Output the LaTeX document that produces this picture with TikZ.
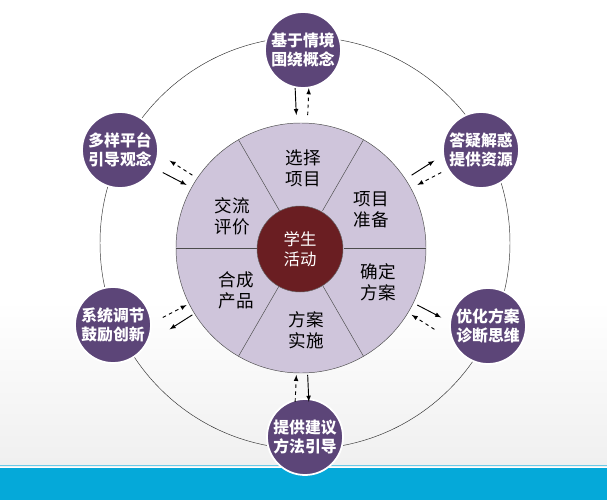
\documentclass[tikz,border=0pt]{standalone}
\usepackage{fontspec}
\setmainfont{Noto Sans CJK SC}
\usetikzlibrary{calc}
\definecolor{disk}{HTML}{CFC5DB}
\definecolor{hub}{HTML}{6A1E22}
\definecolor{ring}{HTML}{5C4578}
\definecolor{band}{HTML}{05A9D9}
\begin{document}
\begin{tikzpicture}[x=0.03cm,y=-0.03cm,
    outer/.style={circle, draw=white, line width=1.5pt, fill=ring, text=white,
        minimum size=76*0.03cm, inner sep=0pt, align=center, font=\fontsize{13.5}{16}\selectfont\bfseries},
    sector/.style={align=center, font=\fontsize{15}{18}\selectfont},
    solidarr/.style={-latex, thick},
    dasharr/.style={-latex, thick, dashed}]
    \useasboundingbox (0,0) rectangle (607,500);
    \shade[top color=white, bottom color=gray!12] (0,300) rectangle (607,466);
    \fill[band] (0,468) rectangle (607,500);
    \draw[band!60, line width=0.8pt] (0,465.5) -- (607,465.5);
    % big ring
    \coordinate (c) at (302,245);
    \draw[black!80, thin] (305,243) ellipse (205 and 206);
    % wheel
    \draw[black!70, fill=disk] (301,248) circle (125);
    \foreach \a in {0,60,...,300}
        \draw[black!70] ($(301,248)+(\a:43)$) -- ($(301,248)+(\a:125)$);
    \node (hub) [circle, fill=hub, draw=black!60, minimum size=86*0.03cm, text=white,
        align=center, font=\fontsize{14}{17}\selectfont] at (300,249) {学生\\活动};
    \node (s1) [sector] at (303,168) {选择\\项目};
    \node (s2) [sector] at (371,210) {项目\\准备};
    \node (s3) [sector] at (378,282) {确定\\方案};
    \node (s4) [sector] at (306,330) {方案\\实施};
    \node (s5) [sector] at (236,290) {合成\\产品};
    \node (s6) [sector] at (232,216) {交流\\评价};
    % outer nodes
    \node (o1) [outer] at (303,50) {基于情境\\围绕概念};
    \node (o2) [outer] at (481,150) {答疑解惑\\提供资源};
    \node (o3) [outer] at (488,326) {优化方案\\诊断思维};
    \node (o4) [outer] at (305,437) {提供建议\\方法引导};
    \node (o5) [outer] at (113,325) {系统调节\\鼓励创新};
    \node (o6) [outer] at (120,150) {多样平台\\引导观念};
    % arrow pairs (y axis flipped, so angles negated)
    \foreach \a/\sdir in {90/1,30/0,-30/0,-90/0,-150/0,150/1}{
        \coordinate (pa) at ($(c)+(-\a-2.5:130)$);
        \coordinate (pb) at ($(c)+(-\a-2.5:157)$);
        \coordinate (qa) at ($(c)+(-\a+2.5:130)$);
        \coordinate (qb) at ($(c)+(-\a+2.5:157)$);
        \ifnum\sdir=1
            \draw[solidarr] (pb) -- (pa);
            \draw[dasharr] (qa) -- (qb);
        \else
            \draw[solidarr] (pa) -- (pb);
            \draw[dasharr] (qb) -- (qa);
        \fi
    }
\end{tikzpicture}
\end{document}
